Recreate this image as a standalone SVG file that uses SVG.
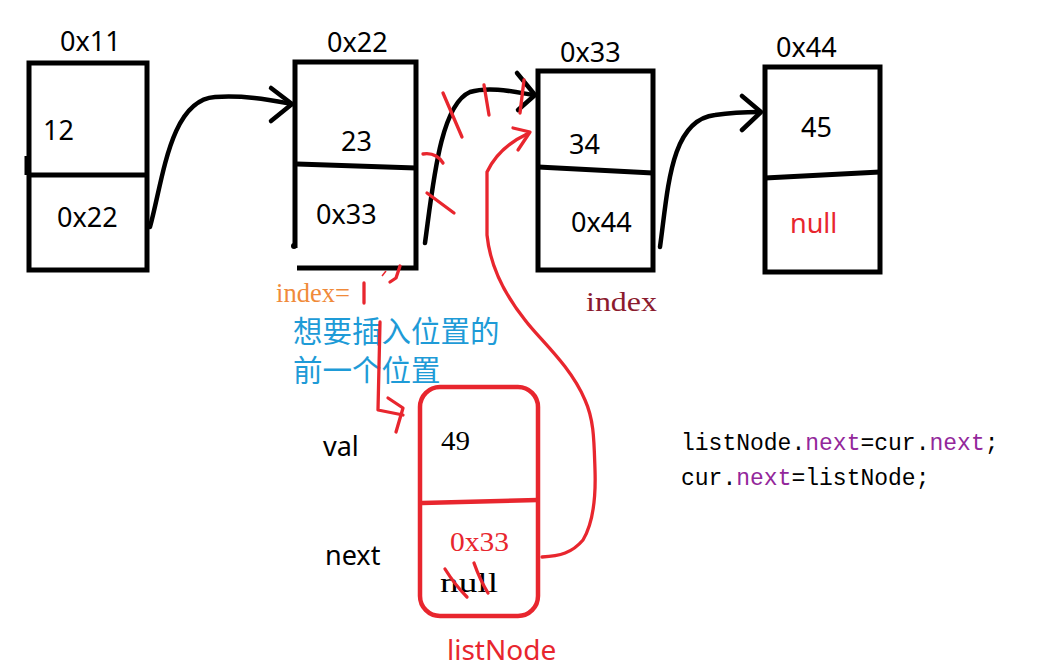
<svg xmlns="http://www.w3.org/2000/svg" width="1037" height="669" viewBox="0 0 1037 669">
<style>
.box{fill:none;stroke:#000;stroke-width:5;stroke-linejoin:miter}
.blk{fill:none;stroke:#000;stroke-width:4.5;stroke-linecap:round;stroke-linejoin:round}
.red{fill:none;stroke:#e8262e;stroke-width:3.3;stroke-linecap:round;stroke-linejoin:round}
.sans{font-family:"Noto Sans","Open Sans","DejaVu Sans",sans-serif;font-size:27px;fill:#000}
.serif{font-family:"Liberation Serif","Noto Sans CJK SC",serif;font-size:28px}
.mono{font-family:"Liberation Mono","Noto Sans CJK SC",monospace;font-size:23px;fill:#000}
.cjk{font-family:"Noto Sans CJK SC",sans-serif;font-size:29.5px;fill:#1e9bd7}
.pur{fill:#93279b}
</style>
<rect width="1037" height="669" fill="#fff"/>

<g id="node1">
<rect class="box" x="29" y="63" width="118" height="207"/>
<path class="box" d="M29,175 L147,175"/>
<path class="box" d="M27,156 L27,175"/>
<text class="sans" x="60" y="51">0x11</text>
<text class="sans" x="43" y="140">12</text>
<text class="sans" x="57" y="227">0x22</text>
</g>

<g id="node2">
<path class="box" d="M295,248 L295,62 L416,62 L416,268 L297,268"/>
<path class="box" d="M297,164 L416,168"/>
<circle cx="294" cy="246" r="3"/>
<text class="sans" x="327" y="52">0x22</text>
<text class="sans" x="341" y="151">23</text>
<text class="sans" x="316" y="224">0x33</text>
</g>

<g id="node3">
<rect class="box" x="538" y="71" width="115" height="199"/>
<path class="box" d="M538,167 L653,173"/>
<text class="sans" x="560" y="62">0x33</text>
<text class="sans" x="569" y="154">34</text>
<text class="sans" x="571" y="232">0x44</text>
<text class="serif" x="586" y="311" textLength="71" lengthAdjust="spacingAndGlyphs" style="fill:#8b1a2e">index</text>
</g>

<g id="node4">
<rect class="box" x="765" y="67" width="115" height="205"/>
<path class="box" d="M765,178 L880,172"/>
<text class="sans" x="776" y="57">0x44</text>
<text class="sans" x="801" y="137">45</text>
<text class="sans" x="790" y="233" style="fill:#e8262e">null</text>
</g>

<g id="listNode">
<rect x="420" y="387" width="118" height="229" rx="20" fill="none" stroke="#e8262e" stroke-width="4.5"/>
<path d="M422,503 L538,500" fill="none" stroke="#e8262e" stroke-width="4.5"/>
<text class="serif" x="441" y="450" textLength="29" lengthAdjust="spacingAndGlyphs" fill="#000">49</text>
<text class="serif" x="450" y="551" textLength="59" lengthAdjust="spacingAndGlyphs" fill="#e8262e">0x33</text>
<text class="serif" x="440" y="592" textLength="58" lengthAdjust="spacingAndGlyphs" fill="#000">null</text>
<path class="red" d="M445,569 Q455,585 467,597"/>
<path class="red" d="M474,563 Q480,580 488,593"/>
<text class="sans" x="323" y="456">val</text>
<text class="sans" x="325" y="565">next</text>
<text class="sans" x="447" y="660" style="fill:#e8262e;font-size:28px">listNode</text>
</g>

<g id="labels">
<text class="serif" x="276" y="302" textLength="74" lengthAdjust="spacingAndGlyphs" fill="#f08a3a">index=</text>
<text class="cjk" x="293" y="342">想要插入位置的</text>
<text class="cjk" x="293" y="381">前一个位置</text>
<text class="mono" x="681" y="450">listNode.<tspan class="pur">next</tspan>=cur.<tspan class="pur">next</tspan>;</text>
<text class="mono" x="681" y="485">cur.<tspan class="pur">next</tspan>=listNode;</text>
</g>

<g id="connectors">
<path class="blk" d="M150,227 C163,180 170,100 215,97 C245,95 270,100 292,104"/>
<path class="blk" d="M271,88 L292,104 L271,121"/>
<path class="blk" d="M425,243 C433,185 440,105 470,92 C490,86 515,92 533,95"/>
<path class="blk" d="M517,73 L535,95 L518,110"/>
<path class="blk" d="M660,247 C668,190 670,120 715,115 C735,112 750,112 760,112"/>
<path class="blk" d="M742,96 L761,112 L742,130"/>

<path class="red" d="M443,93 L462,137"/>
<path class="red" d="M484,85 L489,115"/>
<path class="red" d="M524,80 L520,113"/>
<path class="red" d="M423,154 Q436,152 443,163"/>
<path class="red" d="M427,193 L454,213"/>

<path class="red" d="M542,557 C560,556 572,553 583,540 C592,525 596,500 595,470 C594,440 594,420 585,400 C570,365 540,340 525,320 C505,295 490,265 487,235 L487,172 C495,155 510,142 527,134"/>
<path class="red" d="M513,128 L530,132 L518,150"/>

<path class="red" d="M364,283 L364,303"/>
<path class="red" d="M380,322 L378,410 L403,415"/>
<path class="red" d="M388,398 L403,408 L396,432"/>
<path class="red" d="M400,266 L396,278 L390,282"/>
<path d="M382,276 L386,271" stroke="#e8262e" stroke-width="1.5" fill="none"/>
</g>
</svg>
